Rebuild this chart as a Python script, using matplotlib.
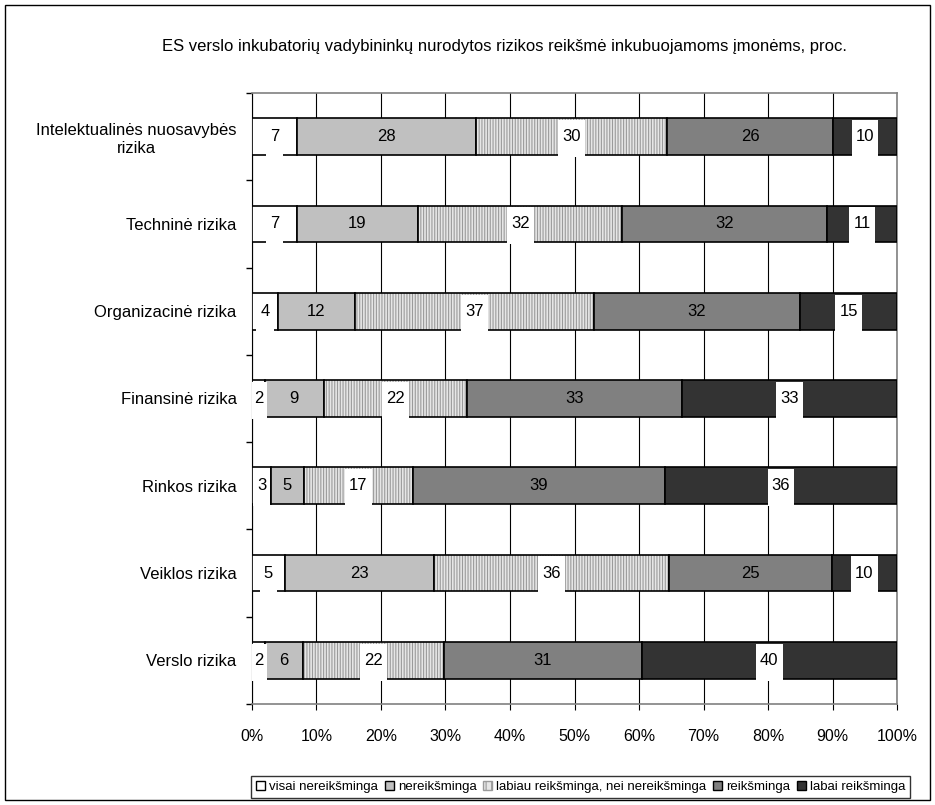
import matplotlib.pyplot as plt
import numpy as np
from matplotlib.patches import Rectangle

plt.rcParams['font.family'] = ['Liberation Sans', 'DejaVu Sans']
plt.rcParams['hatch.linewidth'] = 0.8

title = 'ES verslo inkubatorių vadybininkų nurodytos rizikos reikšmė inkubuojamoms įmonėms, proc.'

categories = ['Intelektualinės nuosavybės\nrizika', 'Techninė rizika', 'Organizacinė rizika',
              'Finansinė rizika', 'Rinkos rizika', 'Veiklos rizika', 'Verslo rizika']
series_names = ['visai nereikšminga', 'nereikšminga', 'labiau reikšminga, nei nereikšminga',
                'reikšminga', 'labai reikšminga']

visai_nereiksminga = [7, 7, 4, 2, 3, 5, 2]
nereiksminga = [28, 19, 12, 9, 5, 23, 6]
labiau_reiksminga = [30, 32, 37, 22, 17, 36, 22]
reiksminga = [26, 32, 32, 33, 39, 25, 31]
labai_reiksminga = [10, 11, 15, 33, 36, 10, 40]

values = np.array([visai_nereiksminga, nereiksminga, labiau_reiksminga, reiksminga, labai_reiksminga],
                  dtype=float)
shares = values / values.sum(axis=0)

colors = ['white', '#c0c0c0', '#e6e6e6', '#808080', '#333333']
hatches = [None, None, '||||||', None, None]
boxed = [True, False, True, False, True]
bar_h = 0.42

fig = plt.figure(figsize=(9.35, 8.05), dpi=100)
fig.patches.append(Rectangle((0.005, 0.006), 0.99, 0.988, transform=fig.transFigure,
                             fill=False, edgecolor='black', linewidth=1.0))
ax = fig.add_axes([0.2695, 0.1255, 0.6899, 0.759])

y = np.arange(len(categories))
left = np.zeros(len(categories))
labels = []
for i in range(len(series_names)):
    if hatches[i]:
        # hatch takes the edge colour, so draw it grey and outline separately
        ax.barh(y, shares[i], left=left, height=bar_h, color=colors[i], edgecolor='#9a9a9a',
                linewidth=0, hatch=hatches[i], zorder=3)
        ax.barh(y, shares[i], left=left, height=bar_h, fill=False, edgecolor='black',
                linewidth=1.2, zorder=3)
    else:
        ax.barh(y, shares[i], left=left, height=bar_h, color=colors[i], edgecolor='black',
                linewidth=1.2, zorder=3)
    for j in range(len(categories)):
        t = ax.text(left[j] + shares[i][j] / 2, y[j], '%d' % values[i][j], ha='center', va='center',
                    fontsize=12, zorder=6)
        if boxed[i]:
            labels.append((t, y[j]))
    left = left + shares[i]

ax.set_xlim(0, 1)
ax.set_ylim(len(categories) - 0.5, -0.5)
ax.set_xticks(np.arange(0, 1.01, 0.1))
ax.set_xticklabels(['%d%%' % v for v in range(0, 101, 10)], fontsize=11.5)
ax.xaxis.grid(True, color='black', linewidth=0.8, zorder=0)
ax.set_axisbelow(True)

ax.set_yticks(np.arange(-0.5, len(categories), 1.0))
ax.set_yticklabels([])
ax.set_yticks(y, minor=True)
ax.set_yticklabels(categories, minor=True, fontsize=12, ha='right', multialignment='center')
ax.tick_params(axis='y', which='minor', length=0, pad=11)
ax.tick_params(axis='y', which='major', length=4, width=1)
ax.tick_params(axis='x', length=4, pad=14)

for s in ['top', 'right', 'bottom']:
    ax.spines[s].set_color('#808080')
    ax.spines[s].set_linewidth(1.2)
ax.spines['left'].set_color('black')

fig.text(0.54, 0.942, title, ha='center', va='center', fontsize=12)

handles = [Rectangle((0, 0), 1, 1, facecolor=colors[i], edgecolor='black') for i in range(len(series_names))]
handles[2] = Rectangle((0, 0), 1, 1, facecolor=colors[2], edgecolor='#9a9a9a', hatch='|||')
fig.legend(handles, series_names, loc='center', bbox_to_anchor=(0.621, 0.0225), ncol=5,
           fontsize=9.5, frameon=True, fancybox=False, edgecolor='black', handlelength=0.7,
           handleheight=0.7, handletextpad=0.3, columnspacing=0.5, borderpad=0.35)

# white boxes behind value labels in the hatched and dark segments
fig.canvas.draw()
renderer = fig.canvas.get_renderer()
inv = ax.transData.inverted()
for t, yc in labels:
    bb = t.get_window_extent(renderer)
    x0 = inv.transform((bb.x0 - 4, 0))[0]
    x1 = inv.transform((bb.x1 + 4, 0))[0]
    ax.add_patch(Rectangle((x0, yc - bar_h / 2 + 0.02), x1 - x0, bar_h + 0.005, facecolor='white',
                           edgecolor='none', zorder=5))

plt.savefig('out.png', dpi=100)
